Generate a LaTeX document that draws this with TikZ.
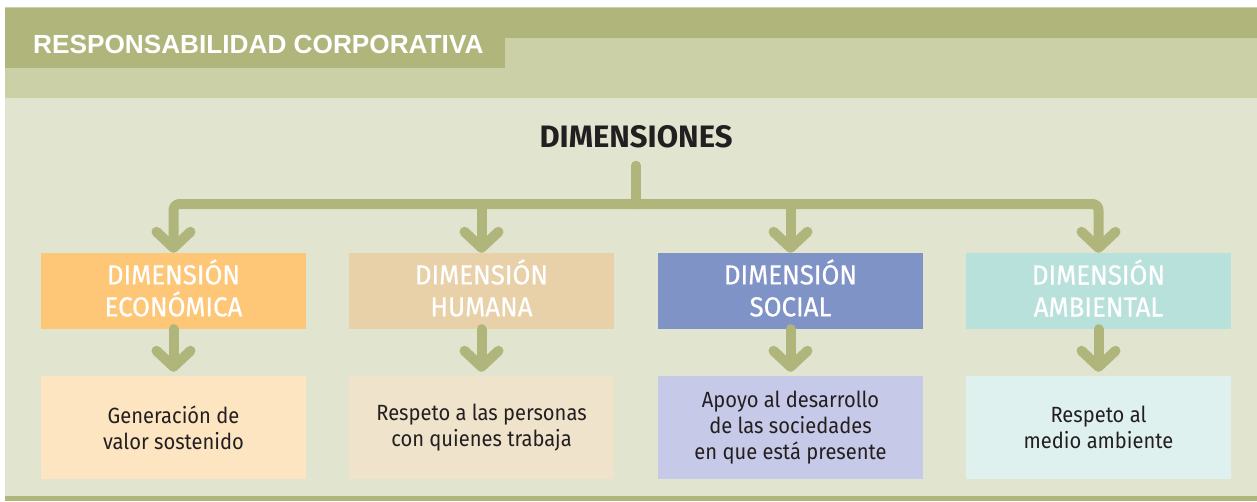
\documentclass[tikz,border=0pt]{standalone}
\usepackage{fontspec}
\setmainfont{Fira Sans}
\newfontfamily\titlefont{Liberation Sans}
\newfontfamily\headfont{Fira Sans}[FakeStretch=0.94, FakeBold=0.6]
\newfontfamily\bodyfont{Fira Sans}[FakeStretch=0.915]
\usepackage{xcolor}
\definecolor{olive}{HTML}{B0B57B}
\definecolor{band}{HTML}{CBD0A7}
\definecolor{paper}{HTML}{E1E4CF}
\definecolor{inkdark}{HTML}{231F20}
\definecolor{ecotop}{HTML}{FEC677}
\definecolor{ecobot}{HTML}{FDE5C2}
\definecolor{humtop}{HTML}{E8D1A9}
\definecolor{humbot}{HTML}{EFE3CB}
\definecolor{soctop}{HTML}{7F93C7}
\definecolor{socbot}{HTML}{C6CAE8}
\definecolor{ambtop}{HTML}{B9E1DC}
\definecolor{ambbot}{HTML}{DFF1EE}
\usepackage{tikz}
\usetikzlibrary{arrows.meta,positioning}

\tikzset{
  dimbox/.style={minimum width=265pt, minimum height=76pt, inner sep=0pt},
  dimtext/.style={inner sep=0pt, text=white, align=center, font=\headfont\fontsize{27.5}{32}\selectfont},
  valbox/.style={minimum width=265pt, minimum height=103pt, inner sep=0pt, text=inkdark,
    align=center, font=\bodyfont\fontsize{22}{26}\selectfont},
  conn/.style={olive, line width=10pt, line cap=round, line join=round},
  chevron/.style={-{Straight Barb[length=16pt, width=34pt, line width=0pt 1, round]}},
}

\begin{document}
\begin{tikzpicture}[x=1pt, y=-1pt]
        % Page and bands
        \useasboundingbox (0,0) rectangle (1257,501);
        \fill[white] (0,0) rectangle (1257,501);
        \fill[band] (5,7) rectangle (1257,98);
        \fill[olive] (5,8) rectangle (1257,38);
        \fill[olive] (5,8) rectangle (505,68);
        \fill[paper] (5,98) rectangle (1257,496);
        \fill[olive] (5,496) rectangle (1257,501);
        % Title
        \node[anchor=base west, inner sep=0pt, text=white, font=\titlefont\bfseries\fontsize{26.2}{30}\selectfont]
          (title) at (33,53) {RESPONSABILIDAD CORPORATIVA};
        \node[anchor=base, inner sep=0pt, text=inkdark, font=\bfseries\fontsize{31}{36}\selectfont]
          (dims) at (636,147) {DIMENSIONES};
        % Dimensions and what each one means
        \foreach \n/\x/\ctop/\cbot/\head/\body in {
            1/173.5/ecotop/ecobot/{DIMENSIÓN\\ECONÓMICA}/{Generación de\\valor sostenido},
            2/481.5/humtop/humbot/{DIMENSIÓN\\HUMANA}/{Respeto a las personas\\con quienes trabaja},
            3/790.5/soctop/socbot/{DIMENSIÓN\\SOCIAL}/{Apoyo al desarrollo\\de las sociedades\\en que está presente},
            4/1098.5/ambtop/ambbot/{DIMENSIÓN\\AMBIENTAL}/{Respeto al\\medio ambiente}} {
          \node[dimbox, fill=\ctop] (dim\n) at (\x,291) {};
          \node[dimtext] (head\n) at (\x,288) {\head};
          \node[valbox, fill=\cbot] (val\n) at (\x,427.5) {\body};
          \draw[conn, chevron, shorten >=4pt] (dim\n) -- (val\n);
        }
        % Branches
        \coordinate (hub) at (636,204);
        \draw[conn] ([yshift=-18pt]dims.south) -- (hub);
        \draw[conn, chevron, rounded corners=6pt] (hub) -| (dim1.north);
        \draw[conn, chevron, rounded corners=6pt] (hub) -| (dim4.north);
        \draw[conn, chevron] (dim2 |- hub) -- (dim2.north);
        \draw[conn, chevron] (dim3 |- hub) -- (dim3.north);
      \end{tikzpicture}
\end{document}
